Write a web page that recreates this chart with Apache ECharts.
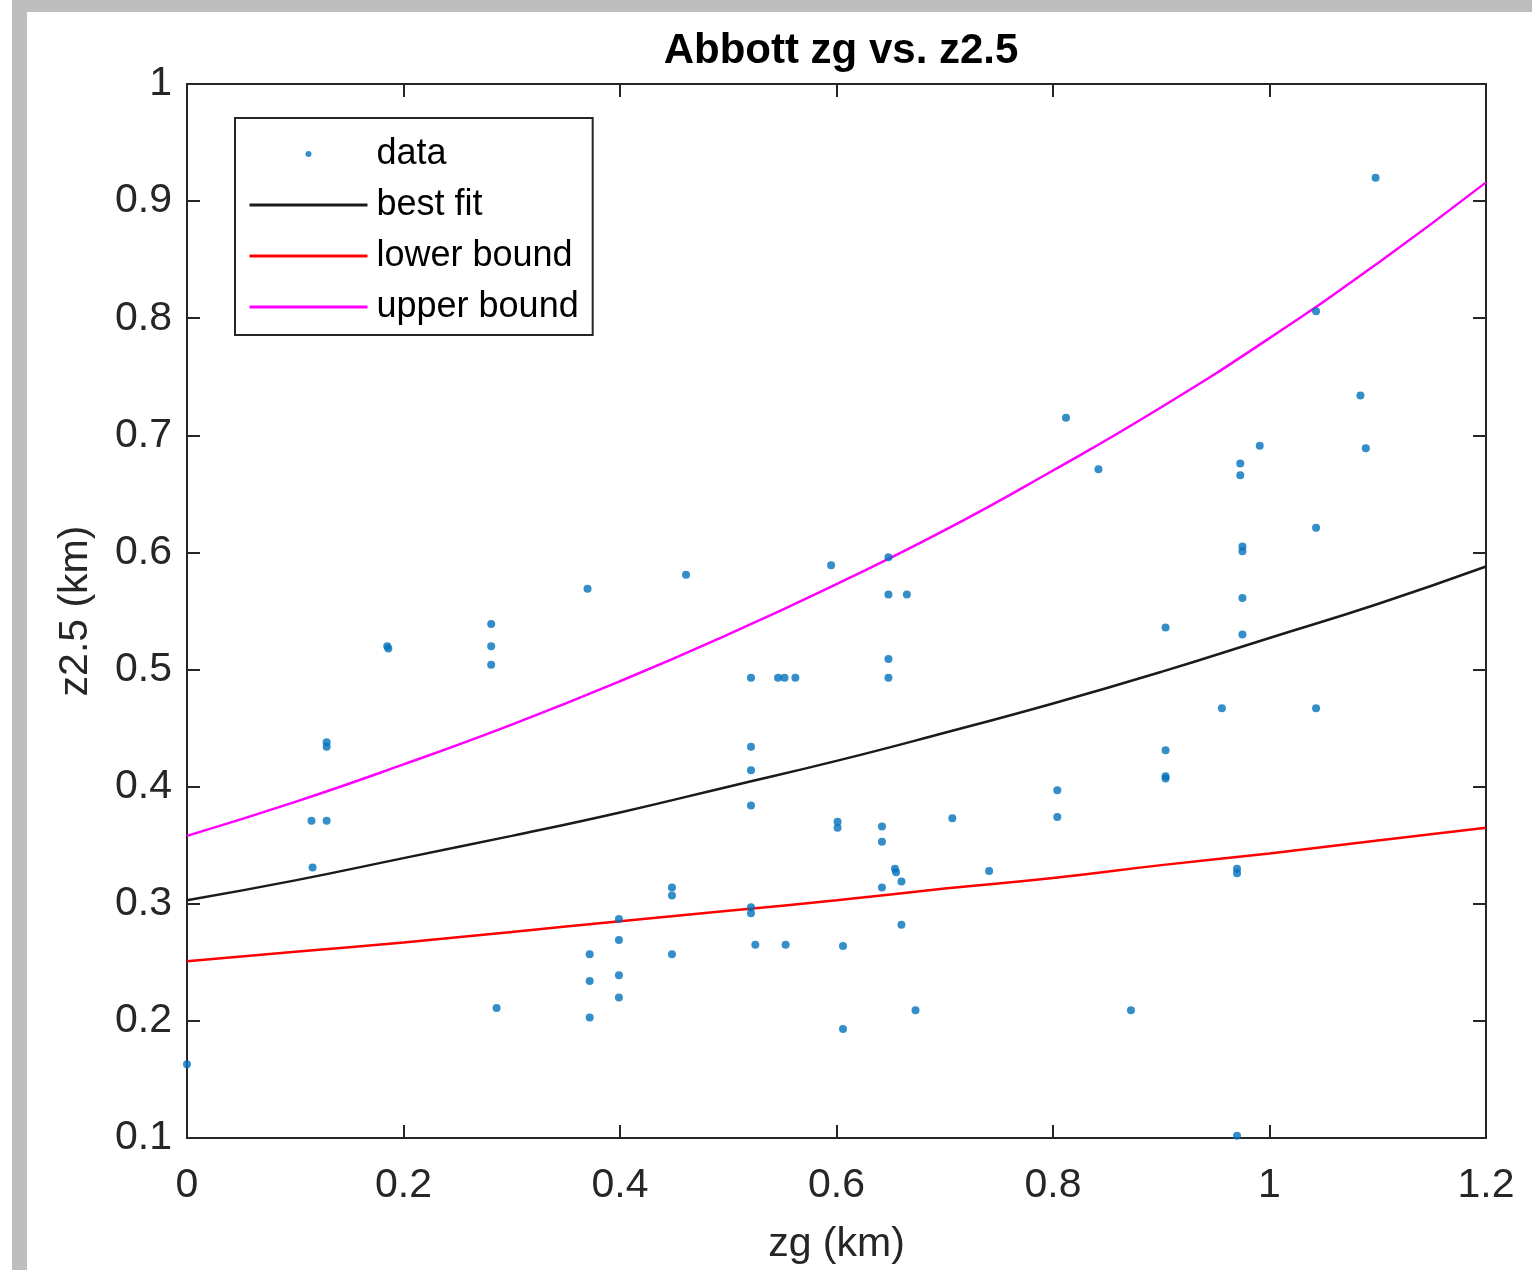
<!DOCTYPE html>
<html>
<head>
<meta charset="utf-8">
<script src="https://cdn.jsdelivr.net/npm/echarts@6/dist/echarts.min.js"></script>
<style>
  html, body { margin: 0; padding: 0; background: #ffffff; }
  #chart { width: 1532px; height: 1270px; }
</style>
</head>
<body>
<div id="chart"></div>
<script>
// ---- data ----
const zgValues = [
  0.000, 0.115, 0.129, 0.116, 0.129, 0.129, 0.185, 0.186, 0.281, 0.281,
  0.281, 0.286, 0.370, 0.372, 0.372, 0.372, 0.399, 0.399, 0.399, 0.399,
  0.448, 0.448, 0.448, 0.461, 0.521, 0.521, 0.521, 0.521, 0.521, 0.521,
  0.525, 0.546, 0.552, 0.562, 0.553, 0.595, 0.601, 0.601, 0.606, 0.606,
  0.642, 0.642, 0.642, 0.648, 0.648, 0.648, 0.648, 0.654, 0.655, 0.660,
  0.660, 0.665, 0.673, 0.707, 0.741, 0.804, 0.804, 0.812, 0.842, 0.872,
  0.904, 0.904, 0.904, 0.904, 0.956, 0.970, 0.970, 0.970, 0.973, 0.973,
  0.975, 0.975, 0.975, 0.975, 0.991, 1.043, 1.043, 1.043, 1.084, 1.089,
  1.098
];
const z25Values = [
  0.163, 0.371, 0.371, 0.331, 0.438, 0.434, 0.520, 0.518, 0.539, 0.520,
  0.504, 0.211, 0.569, 0.257, 0.234, 0.203, 0.287, 0.269, 0.239, 0.220,
  0.314, 0.307, 0.257, 0.581, 0.493, 0.434, 0.414, 0.384, 0.297, 0.292,
  0.265, 0.493, 0.493, 0.493, 0.265, 0.589, 0.370, 0.365, 0.264, 0.193,
  0.366, 0.353, 0.314, 0.596, 0.564, 0.509, 0.493, 0.330, 0.327, 0.319,
  0.282, 0.564, 0.209, 0.373, 0.328, 0.397, 0.374, 0.715, 0.671, 0.209,
  0.536, 0.431, 0.409, 0.407, 0.467, 0.330, 0.326, 0.102, 0.676, 0.666,
  0.605, 0.601, 0.561, 0.530, 0.691, 0.806, 0.621, 0.467, 0.734, 0.689,
  0.920
];
const curveX     = [0, 0.1, 0.2, 0.3, 0.4, 0.5, 0.6, 0.7, 0.8, 0.9, 1.0, 1.1, 1.2];
const bestFit    = [0.303, 0.320, 0.339, 0.358, 0.378, 0.400, 0.422, 0.446, 0.471, 0.498, 0.527, 0.556, 0.588];
const lowerBound = [0.251, 0.259, 0.267, 0.276, 0.285, 0.294, 0.303, 0.313, 0.322, 0.333, 0.343, 0.354, 0.365];
const upperBound = [0.358, 0.387, 0.419, 0.453, 0.490, 0.530, 0.573, 0.619, 0.670, 0.724, 0.783, 0.847, 0.916];
const xTicks = { min: 0, max: 1.2, step: 0.2 };
const yTicks = { min: 0.1, max: 1, step: 0.1 };

const FONT = '"Liberation Sans", Arial, Helvetica, sans-serif';
const AX = '#262626';

const pairs = (xs, ys) => xs.map((x, i) => [x, ys[i]]);

const axisCommon = {
  type: 'value',
  axisLine: { show: true, onZero: false, lineStyle: { color: AX, width: 2 } },
  axisTick: { show: true, inside: true, length: 13, lineStyle: { color: AX, width: 2 } },
  splitLine: { show: false }
};

const chart = echarts.init(document.getElementById('chart'), null, { renderer: 'canvas' });
chart.setOption({
  animation: false,
  backgroundColor: '#ffffff',
  graphic: [
    { type: 'rect', shape: { x: 12, y: 0, width: 15, height: 1270 }, style: { fill: '#bebebe' }, silent: true },
    { type: 'rect', shape: { x: 12, y: 0, width: 1520, height: 12 }, style: { fill: '#bebebe' }, silent: true }
  ],
  title: {
    text: 'Abbott zg vs. z2.5',
    left: 836, top: 25, textAlign: 'center',
    textStyle: { fontFamily: FONT, fontSize: 42, fontWeight: 'bold', color: '#000' }
  },
  grid: { left: 187, top: 84, right: 46, bottom: 132, containLabel: false },
  xAxis: [
    Object.assign({}, axisCommon, {
      position: 'bottom', min: xTicks.min, max: xTicks.max, interval: xTicks.step,
      axisLabel: { color: AX, fontSize: 41, fontFamily: FONT, margin: 27 },
      name: 'zg (km)', nameLocation: 'middle', nameGap: 86,
      nameTextStyle: { color: AX, fontSize: 41, fontFamily: FONT }
    }),
    Object.assign({}, axisCommon, {
      position: 'top', min: xTicks.min, max: xTicks.max, interval: xTicks.step,
      axisLabel: { show: false }
    })
  ],
  yAxis: [
    Object.assign({}, axisCommon, {
      position: 'left', min: yTicks.min, max: yTicks.max, interval: yTicks.step,
      axisLabel: { color: AX, fontSize: 41, fontFamily: FONT, margin: 15 },
      name: 'z2.5 (km)', nameLocation: 'middle', nameGap: 91,
      nameTextStyle: { color: AX, fontSize: 41, fontFamily: FONT }
    }),
    Object.assign({}, axisCommon, {
      position: 'right', min: yTicks.min, max: yTicks.max, interval: yTicks.step,
      axisLabel: { show: false }
    })
  ],
  legend: {
    orient: 'vertical', left: 235, top: 118,
    padding: [18, 14, 10, 13], itemGap: 15,
    itemWidth: 118, itemHeight: 6,
    borderColor: AX, borderWidth: 2, backgroundColor: '#ffffff',
    textStyle: { fontFamily: FONT, fontSize: 36, color: '#000', lineHeight: 36, padding: [0, 0, 0, 4] },
    data: [
      { name: 'data' },
      { name: 'best fit', itemStyle: { opacity: 0 }, lineStyle: { width: 3 } },
      { name: 'lower bound', itemStyle: { opacity: 0 }, lineStyle: { width: 3 } },
      { name: 'upper bound', itemStyle: { opacity: 0 }, lineStyle: { width: 3 } }
    ]
  },
  series: [
    {
      name: 'data', type: 'scatter', xAxisIndex: 0, yAxisIndex: 0,
      symbol: 'circle', symbolSize: 8,
      itemStyle: { color: '#0072BD' },
      data: pairs(zgValues, z25Values), z: 3
    },
    {
      name: 'best fit', type: 'line', xAxisIndex: 0, yAxisIndex: 0,
      symbol: 'none', smooth: true,
      lineStyle: { color: '#1a1a1a', width: 2.5 }, itemStyle: { color: '#1a1a1a' },
      data: pairs(curveX, bestFit), z: 2
    },
    {
      name: 'lower bound', type: 'line', xAxisIndex: 0, yAxisIndex: 0,
      symbol: 'none', smooth: true,
      lineStyle: { color: '#ff0000', width: 2.5 }, itemStyle: { color: '#ff0000' },
      data: pairs(curveX, lowerBound), z: 2
    },
    {
      name: 'upper bound', type: 'line', xAxisIndex: 0, yAxisIndex: 0,
      symbol: 'none', smooth: true,
      lineStyle: { color: '#ff00ff', width: 2.5 }, itemStyle: { color: '#ff00ff' },
      data: pairs(curveX, upperBound), z: 2
    }
  ]
});
</script>
</body>
</html>
